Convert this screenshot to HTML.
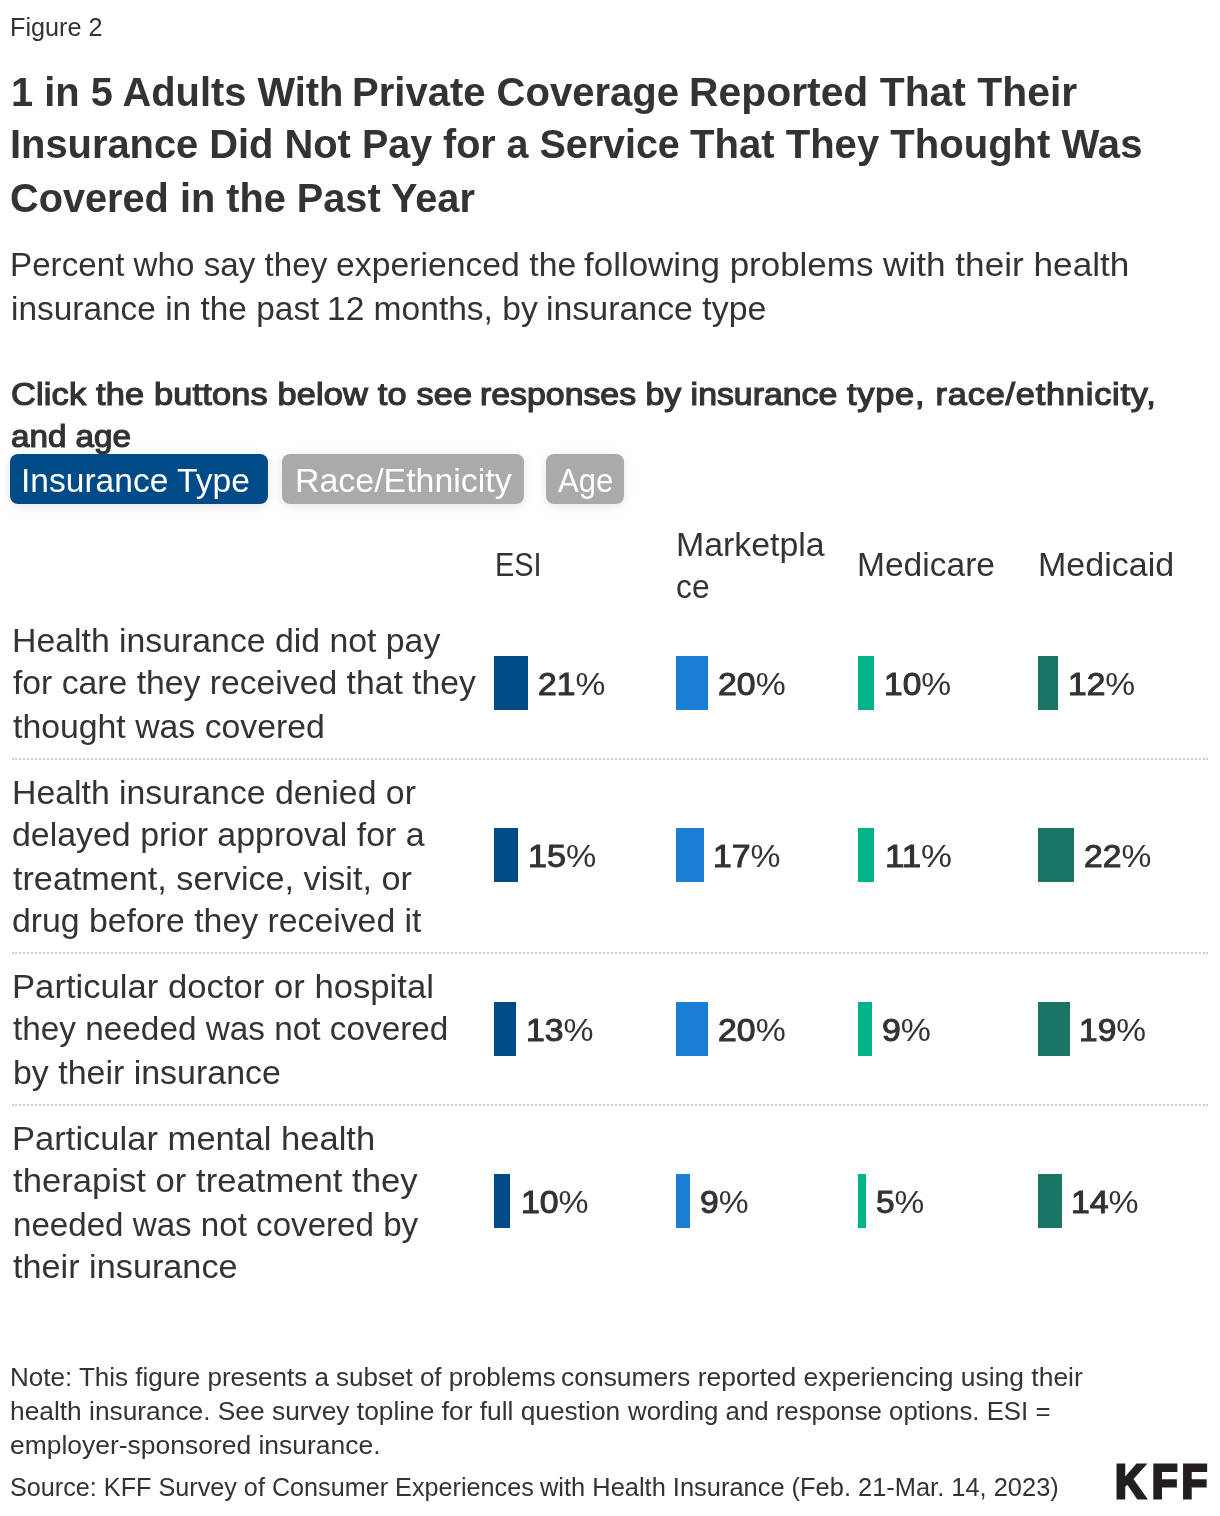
<!DOCTYPE html>
<html lang="en"><head><meta charset="utf-8"><title>Figure 2</title>
<style>
html,body{margin:0;padding:0;background:#fff}
body{position:relative;width:1220px;height:1516px;overflow:hidden;font-family:"Liberation Sans",sans-serif;color:#333}
h1,h2,p{margin:0;font:inherit}
.t{position:absolute;display:block;white-space:pre;line-height:0;transform-origin:0 0}
.btn{position:absolute;background:#aaa;color:#fff;border-radius:8px;box-shadow:0 2px 12px rgba(0,0,0,.1)}
.btn.on{background:#004b87}
.bar{position:absolute;display:block;height:54px}
.dot{position:absolute;left:12px;width:1196px;height:0;border-top:2px dotted #cfcfcf}
.d{-webkit-text-stroke:1px #333}
.kff{left:1114.66px;top:1481px;font-size:49px;font-weight:700;color:#231f20;-webkit-text-stroke:3px;transform:scaleX(.865)}
</style></head><body>
<main class="chart">
<header>
<div class="t" style="left:10.00px;top:27.00px;font-size:25px;letter-spacing:-0.008px;transform:scaleX(1.0092)">Figure 2 </div>
<h1><span class="t" style="left:10.80px;top:92.00px;font-size:41.5px;font-weight:700;letter-spacing:0.013px;transform:scaleX(0.9595)">1 in 5 Adults With </span><span class="t" style="left:352.23px;top:92.00px;font-size:41.5px;font-weight:700;letter-spacing:-0.020px;transform:scaleX(0.9652)">Private Coverage </span><span class="t" style="left:689.27px;top:92.00px;font-size:41.5px;font-weight:700;letter-spacing:0.021px;transform:scaleX(0.9836)">Reported That Their </span><span class="t" style="left:10.43px;top:144.00px;font-size:41.5px;font-weight:700;letter-spacing:-0.023px;transform:scaleX(0.9610)">Insurance Did Not </span><span class="t" style="left:361.67px;top:144.00px;font-size:41.5px;font-weight:700;letter-spacing:-0.024px;transform:scaleX(0.9512)">Pay for a Service </span><span class="t" style="left:689.50px;top:144.00px;font-size:41.5px;font-weight:700;transform:scaleX(0.9651)">That They Thought Was </span><span class="t" style="left:10.17px;top:198.00px;font-size:41.5px;font-weight:700;letter-spacing:0.001px;transform:scaleX(0.9566)">Covered in the Past Year </span></h1>
<p class="desc"><span class="t" style="left:10.09px;top:265.00px;font-size:32.5px;letter-spacing:0.016px;transform:scaleX(1.0200)">Percent who say they </span><span class="t" style="left:335.60px;top:265.00px;font-size:32.5px;transform:scaleX(1.0385)">experienced the </span><span class="t" style="left:584.40px;top:265.00px;font-size:32.5px;letter-spacing:-0.010px;transform:scaleX(1.0759)">following problems </span><span class="t" style="left:882.50px;top:265.00px;font-size:32.5px;letter-spacing:0.001px;transform:scaleX(1.0822)">with their health </span><span class="t" style="left:10.80px;top:309.00px;font-size:32.5px;letter-spacing:0.011px;transform:scaleX(1.0275)">insurance in the past </span><span class="t" style="left:327.46px;top:309.00px;font-size:32.5px;letter-spacing:-0.015px;transform:scaleX(1.0329)">12 months, by </span><span class="t" style="left:546.20px;top:309.00px;font-size:32.5px;letter-spacing:-0.005px;transform:scaleX(1.0429)">insurance type </span></p>
</header>
<section class="controls">
<h2><span class="t" style="left:10.50px;top:394.00px;font-size:31.5px;-webkit-text-stroke:1.2px;letter-spacing:0.158px;transform:scaleX(1.0900)">Click the buttons below to see </span><span class="t" style="left:479.99px;top:394.00px;font-size:31.5px;-webkit-text-stroke:1.2px;transform:scaleX(1.0740)">responses by insurance </span><span class="t" style="left:847.03px;top:394.00px;font-size:31.5px;-webkit-text-stroke:1.2px;letter-spacing:0.710px;transform:scaleX(1.0900)">type, race/ethnicity, </span><span class="t" style="left:10.97px;top:436.00px;font-size:31.5px;-webkit-text-stroke:1.2px;letter-spacing:-0.011px;transform:scaleX(1.0545)">and age </span></h2>
<nav>
<div class="btn on" style="left:10px;top:454px;width:258px;height:49.5px"><span class="t" style="left:11.30px;top:27.00px;font-size:33px;letter-spacing:0.013px;transform:scaleX(1.0161)">Insurance Type </span></div>
<div class="btn" style="left:282px;top:454px;width:241.5px;height:49.5px"><span class="t" style="left:12.54px;top:27.00px;font-size:33px;letter-spacing:0.004px;transform:scaleX(1.0271)">Race/Ethnicity </span></div>
<div class="btn" style="left:546px;top:454px;width:78px;height:49.5px"><span class="t" style="left:12.00px;top:27.00px;font-size:33px;transform:scaleX(0.9410)">Age </span></div>
</nav>
</section>
<section class="tbl">
<div class="thead"><div class="t" style="left:495.30px;top:565.00px;font-size:32.5px;transform:scaleX(0.8900)">ESI </div><div><span class="t" style="left:675.62px;top:545.00px;font-size:32.5px;letter-spacing:-0.029px;transform:scaleX(1.0431)">Marketpla</span><span class="t" style="left:676.20px;top:587.00px;font-size:32.5px;transform:scaleX(0.9787)">ce </span></div><div class="t" style="left:857.05px;top:565.00px;font-size:32.5px;letter-spacing:-0.002px;transform:scaleX(1.0323)">Medicare </div><div class="t" style="left:1038.22px;top:565.00px;font-size:32.5px;letter-spacing:0.016px;transform:scaleX(1.0455)">Medicaid </div></div>
<div class="row">
<div class="lbl"><span class="t" style="left:11.93px;top:641.00px;font-size:32.5px;transform:scaleX(1.0397)">Health insurance did not pay </span><span class="t" style="left:13.40px;top:683.00px;font-size:32.5px;letter-spacing:-0.002px;transform:scaleX(1.0375)">for care they received that they </span><span class="t" style="left:13.40px;top:727.00px;font-size:32.5px;letter-spacing:-0.001px;transform:scaleX(1.0399)">thought was covered </span></div>
<div class="cell"><i class="bar" style="left:494px;top:656px;width:34px;background:#004b87"></i><span class="t" style="left:538.10px;top:685.00px;font-size:31px;transform:scaleX(1.0848)"><span class="d">21</span>%</span></div>
<div class="cell"><i class="bar" style="left:676.2px;top:656px;width:32px;background:#1c7ed6"></i><span class="t" style="left:717.70px;top:685.00px;font-size:31px;transform:scaleX(1.0912)"><span class="d">20</span>%</span></div>
<div class="cell"><i class="bar" style="left:858px;top:656px;width:16px;background:#00b388"></i><span class="t" style="left:883.50px;top:685.00px;font-size:31px;transform:scaleX(1.0828)"><span class="d">10</span>%</span></div>
<div class="cell"><i class="bar" style="left:1038px;top:656px;width:20px;background:#1b7564"></i><span class="t" style="left:1068.00px;top:685.00px;font-size:31px;transform:scaleX(1.0828)"><span class="d">12</span>%</span></div>
<div class="dot" style="top:758px"></div>
</div>
<div class="row">
<div class="lbl"><span class="t" style="left:11.93px;top:793.00px;font-size:32.5px;letter-spacing:-0.009px;transform:scaleX(1.0404)">Health insurance denied or </span><span class="t" style="left:12.40px;top:835.00px;font-size:32.5px;letter-spacing:-0.003px;transform:scaleX(1.0430)">delayed prior approval for a </span><span class="t" style="left:12.90px;top:879.00px;font-size:32.5px;letter-spacing:0.001px;transform:scaleX(1.0513)">treatment, service, visit, or </span><span class="t" style="left:12.40px;top:921.00px;font-size:32.5px;letter-spacing:-0.006px;transform:scaleX(1.0401)">drug before they received it </span></div>
<div class="cell"><i class="bar" style="left:494px;top:828px;width:24px;background:#004b87"></i><span class="t" style="left:528.00px;top:857.00px;font-size:31px;transform:scaleX(1.0996)"><span class="d">15</span>%</span></div>
<div class="cell"><i class="bar" style="left:676.2px;top:828px;width:28px;background:#1c7ed6"></i><span class="t" style="left:713.00px;top:857.00px;font-size:31px;transform:scaleX(1.0877)"><span class="d">17</span>%</span></div>
<div class="cell"><i class="bar" style="left:858px;top:828px;width:16px;background:#00b388"></i><span class="t" style="left:885.40px;top:857.00px;font-size:31px;transform:scaleX(1.1216)"><span class="d">11</span>%</span></div>
<div class="cell"><i class="bar" style="left:1038px;top:828px;width:36px;background:#1b7564"></i><span class="t" style="left:1084.00px;top:857.00px;font-size:31px;transform:scaleX(1.0848)"><span class="d">22</span>%</span></div>
<div class="dot" style="top:952px"></div>
</div>
<div class="row">
<div class="lbl"><span class="t" style="left:11.86px;top:987.00px;font-size:32.5px;letter-spacing:-0.001px;transform:scaleX(1.0665)">Particular doctor or hospital </span><span class="t" style="left:13.40px;top:1029.00px;font-size:32.5px;letter-spacing:-0.002px;transform:scaleX(1.0256)">they needed was not covered </span><span class="t" style="left:12.70px;top:1073.00px;font-size:32.5px;letter-spacing:-0.003px;transform:scaleX(1.0444)">by their insurance </span></div>
<div class="cell"><i class="bar" style="left:494px;top:1002px;width:22px;background:#004b87"></i><span class="t" style="left:525.60px;top:1031.00px;font-size:31px;transform:scaleX(1.0894)"><span class="d">13</span>%</span></div>
<div class="cell"><i class="bar" style="left:676.2px;top:1002px;width:32px;background:#1c7ed6"></i><span class="t" style="left:717.70px;top:1031.00px;font-size:31px;transform:scaleX(1.0912)"><span class="d">20</span>%</span></div>
<div class="cell"><i class="bar" style="left:858px;top:1002px;width:14px;background:#00b388"></i><span class="t" style="left:881.80px;top:1031.00px;font-size:31px;transform:scaleX(1.0918)"><span class="d">9</span>%</span></div>
<div class="cell"><i class="bar" style="left:1038px;top:1002px;width:32px;background:#1b7564"></i><span class="t" style="left:1079.40px;top:1031.00px;font-size:31px;transform:scaleX(1.0804)"><span class="d">19</span>%</span></div>
<div class="dot" style="top:1104px"></div>
</div>
<div class="row">
<div class="lbl"><span class="t" style="left:11.87px;top:1139.00px;font-size:32.5px;letter-spacing:0.015px;transform:scaleX(1.0625)">Particular mental health </span><span class="t" style="left:12.89px;top:1181.00px;font-size:32.5px;letter-spacing:-0.003px;transform:scaleX(1.0668)">therapist or treatment they </span><span class="t" style="left:12.70px;top:1225.00px;font-size:32.5px;transform:scaleX(1.0193)">needed was not covered by </span><span class="t" style="left:12.90px;top:1267.00px;font-size:32.5px;letter-spacing:0.011px;transform:scaleX(1.0526)">their insurance </span></div>
<div class="cell"><i class="bar" style="left:494px;top:1174px;width:16px;background:#004b87"></i><span class="t" style="left:520.50px;top:1203.00px;font-size:31px;transform:scaleX(1.0904)"><span class="d">10</span>%</span></div>
<div class="cell"><i class="bar" style="left:676.2px;top:1174px;width:14px;background:#1c7ed6"></i><span class="t" style="left:700.40px;top:1203.00px;font-size:31px;transform:scaleX(1.0845)"><span class="d">9</span>%</span></div>
<div class="cell"><i class="bar" style="left:858px;top:1174px;width:8px;background:#00b388"></i><span class="t" style="left:875.84px;top:1203.00px;font-size:31px;transform:scaleX(1.0794)"><span class="d">5</span>%</span></div>
<div class="cell"><i class="bar" style="left:1038px;top:1174px;width:24px;background:#1b7564"></i><span class="t" style="left:1070.90px;top:1203.00px;font-size:31px;transform:scaleX(1.0904)"><span class="d">14</span>%</span></div>
</div>
</section>
<footer>
<p class="note"><span class="t" style="left:9.60px;top:1377.00px;font-size:25px;letter-spacing:-0.003px;transform:scaleX(1.0401)">Note: This figure presents a subset of problems </span><span class="t" style="left:561.10px;top:1377.00px;font-size:25px;letter-spacing:0.001px;transform:scaleX(1.0576)">consumers reported experiencing using their </span><span class="t" style="left:9.98px;top:1411.00px;font-size:25px;transform:scaleX(1.0530)">health insurance. See survey topline for full question </span><span class="t" style="left:627.70px;top:1411.00px;font-size:25px;letter-spacing:0.004px;transform:scaleX(1.0319)">wording and response options. ESI = </span><span class="t" style="left:9.90px;top:1445.00px;font-size:25px;letter-spacing:0.002px;transform:scaleX(1.0579)">employer-sponsored insurance. </span></p>
<p class="src"><span class="t" style="left:9.66px;top:1487.00px;font-size:25px;letter-spacing:0.008px;transform:scaleX(1.0073)">Source: KFF Survey of Consumer Experiences </span><span class="t" style="left:540.30px;top:1487.00px;font-size:25px;letter-spacing:0.002px;transform:scaleX(1.0170)">with Health Insurance (Feb. 21-Mar. 14, 2023) </span></p>
<div class="t kff"><span style="letter-spacing:7.08px">K</span><span style="letter-spacing:4.33px">F</span>F</div>
</footer>
</main>
</body></html>
